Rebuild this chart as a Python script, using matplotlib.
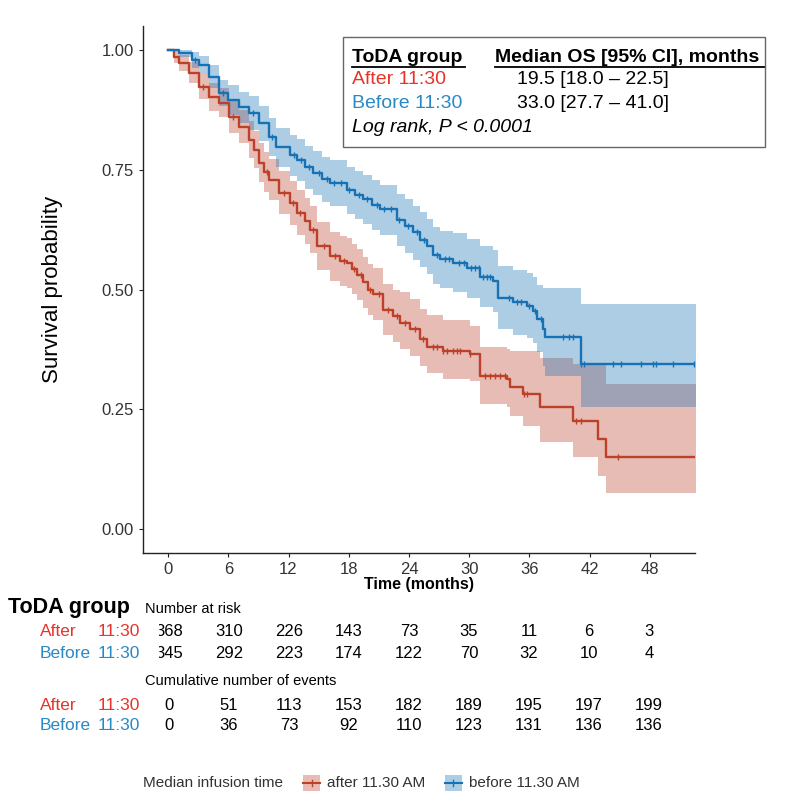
import numpy as np
import matplotlib.pyplot as plt
from matplotlib.patches import Rectangle
from matplotlib.lines import Line2D

plt.rcParams['font.family'] = ['Liberation Sans', 'DejaVu Sans']

# Kaplan-Meier steps (time in months, survival, 95% CI)
before_t = [0, 1.1, 2.4, 3.1, 4.1, 5.1, 6.0, 7.1, 8.1, 9.1, 10.1, 10.8, 12.1, 12.8, 13.6, 14.4,
            15.3, 16.1, 17.8, 18.6, 19.4, 20.3, 21.1, 22.8, 23.6, 24.4, 25.1, 25.8, 26.4, 27.1,
            28.4, 29.8, 31.1, 32.4, 32.9, 34.4, 35.8, 36.4, 36.8, 37.4, 37.6, 41.1, 52.6]
before_s = [1.000, 0.994, 0.979, 0.969, 0.944, 0.910, 0.896, 0.881, 0.869, 0.848, 0.819, 0.798,
            0.781, 0.771, 0.756, 0.744, 0.731, 0.723, 0.708, 0.698, 0.688, 0.677, 0.667, 0.646,
            0.633, 0.619, 0.604, 0.590, 0.571, 0.563, 0.556, 0.544, 0.527, 0.517, 0.483, 0.473,
            0.465, 0.456, 0.438, 0.417, 0.400, 0.344, 0.344]
before_hi = [1.0, 1.0, 0.995, 0.988, 0.968, 0.938, 0.926, 0.913, 0.903, 0.884, 0.857, 0.838,
             0.823, 0.814, 0.800, 0.789, 0.777, 0.770, 0.756, 0.747, 0.738, 0.728, 0.719, 0.700,
             0.688, 0.675, 0.661, 0.648, 0.630, 0.623, 0.617, 0.606, 0.591, 0.582, 0.550, 0.541,
             0.534, 0.526, 0.510, 0.504, 0.504, 0.469, 0.469]
before_lo = [1.0, 0.986, 0.963, 0.950, 0.920, 0.882, 0.864, 0.848, 0.833, 0.810, 0.779, 0.756,
             0.737, 0.726, 0.710, 0.697, 0.683, 0.674, 0.658, 0.647, 0.636, 0.624, 0.613, 0.591,
             0.577, 0.562, 0.546, 0.532, 0.512, 0.503, 0.495, 0.482, 0.463, 0.452, 0.418, 0.406,
             0.398, 0.388, 0.370, 0.340, 0.319, 0.254, 0.254]

after_t = [0, 0.6, 1.1, 2.1, 3.1, 4.1, 5.1, 6.1, 7.1, 8.1, 8.6, 9.1, 9.6, 10.1, 11.1, 12.1, 12.8,
           13.6, 14.1, 14.8, 16.1, 17.1, 17.8, 18.3, 18.8, 19.4, 19.9, 20.4, 21.4, 22.4, 23.1,
           24.1, 25.1, 25.8, 27.4, 30.1, 31.1, 33.8, 34.1, 35.4, 37.1, 40.3, 42.8, 43.6, 52.6]
after_s = [1.000, 0.985, 0.973, 0.952, 0.923, 0.902, 0.890, 0.860, 0.840, 0.813, 0.792, 0.765,
           0.746, 0.729, 0.702, 0.681, 0.660, 0.642, 0.625, 0.590, 0.569, 0.560, 0.556, 0.542,
           0.531, 0.515, 0.500, 0.490, 0.458, 0.444, 0.431, 0.417, 0.396, 0.381, 0.371, 0.365,
           0.319, 0.313, 0.296, 0.281, 0.254, 0.225, 0.188, 0.150, 0.150]
after_hi = [1.0, 0.997, 0.990, 0.974, 0.949, 0.931, 0.920, 0.893, 0.875, 0.851, 0.831, 0.806,
            0.788, 0.772, 0.747, 0.727, 0.707, 0.690, 0.674, 0.640, 0.620, 0.612, 0.608, 0.594,
            0.584, 0.568, 0.554, 0.544, 0.512, 0.499, 0.494, 0.480, 0.460, 0.446, 0.436, 0.423,
            0.381, 0.376, 0.371, 0.371, 0.358, 0.344, 0.344, 0.302, 0.302]
after_lo = [1.0, 0.973, 0.956, 0.930, 0.897, 0.873, 0.860, 0.827, 0.805, 0.775, 0.753, 0.724,
            0.704, 0.686, 0.657, 0.635, 0.613, 0.594, 0.576, 0.540, 0.518, 0.508, 0.504, 0.490,
            0.478, 0.462, 0.446, 0.436, 0.404, 0.390, 0.375, 0.361, 0.340, 0.325, 0.314, 0.310,
            0.262, 0.255, 0.237, 0.215, 0.181, 0.150, 0.110, 0.075, 0.075]

# censoring times (months)
before_cens = [2.7, 5.5, 8.5, 10.4, 12.5, 13.2, 14.0, 15.0, 15.8, 16.5, 17.2, 18.0, 19.0, 19.8,
               20.8, 21.5, 22.2, 23.0, 23.9, 24.8, 25.5, 26.8, 27.6, 28.0, 29.0, 29.5, 30.2,
               30.6, 31.0, 31.4, 31.8, 32.1, 34.0, 34.8, 35.2, 36.0, 36.6, 37.2, 39.3, 39.9,
               40.3, 41.1, 41.4, 44.3, 45.1, 47.1, 48.3, 48.6, 50.3, 52.4]
after_cens = [3.5, 6.5, 9.9, 11.5, 12.4, 13.1, 14.4, 15.5, 16.6, 17.5, 18.5, 19.2, 20.1, 21.0,
              21.9, 22.8, 23.6, 24.6, 25.4, 26.4, 26.8, 27.4, 27.8, 28.4, 28.8, 29.1, 30.1,
              31.6, 32.1, 32.6, 33.1, 33.6, 35.5, 35.8, 40.6, 41.1, 44.8]

# risk table
table_times = [0, 6, 12, 18, 24, 30, 36, 42, 48]
after_risk = [368, 310, 226, 143, 73, 35, 11, 6, 3]
before_risk = [345, 292, 223, 174, 122, 70, 32, 10, 4]
after_events = [0, 51, 113, 153, 182, 189, 195, 197, 199]
before_events = [0, 36, 73, 92, 110, 123, 131, 136, 136]

red = '#BD4029'
blue = '#1672B5'
red_txt = '#E8332A'
blue_txt = '#2A88C6'

W, H = 790, 800
fig = plt.figure(figsize=(W / 100, H / 100), dpi=100)


def fx(x):
    return x / W


def fy(y):
    return 1 - y / H


ax = fig.add_axes([fx(143), fy(553), fx(695) - fx(143), fy(26) - fy(553)])

ax.fill_between(after_t, after_lo, after_hi, step='post', color=red, alpha=0.35, lw=0)
ax.fill_between(before_t, before_lo, before_hi, step='post', color=blue, alpha=0.35, lw=0)
ax.step(after_t, after_s, where='post', color=red, lw=1.7)
ax.step(before_t, before_s, where='post', color=blue, lw=1.7)

for tt, ss, cens, col in [(after_t, after_s, after_cens, red), (before_t, before_s, before_cens, blue)]:
    idx = np.searchsorted(tt, cens, side='right') - 1
    ax.plot(cens, np.array(ss)[idx], ls='none', marker='|', ms=5, mew=1.0, color=col)

ax.set_xlim(-2.5, 52.5)
ax.set_ylim(-0.05, 1.05)
ax.set_xticks(table_times)
ax.set_yticks([0, 0.25, 0.5, 0.75, 1.0])
ax.set_yticklabels(['0.00', '0.25', '0.50', '0.75', '1.00'])
ax.tick_params(labelsize=12, length=3, width=0.8, colors='#222222', labelcolor='#333333')
for sp in ['top', 'right']:
    ax.spines[sp].set_visible(False)
for sp in ['left', 'bottom']:
    ax.spines[sp].set_linewidth(1.0)
    ax.spines[sp].set_color('#222222')
ax.set_xlabel('Time (months)', fontsize=11.5, fontweight='bold',
              family=['Liberation Sans Narrow', 'Liberation Sans'], labelpad=0)
ax.set_ylabel('Survival probability', fontsize=16, labelpad=28)

# median OS box
fig.patches.append(Rectangle((fx(343), fy(147)), fx(765) - fx(343), fy(37) - fy(147),
                             transform=fig.transFigure, fill=False, ec='#666666', lw=1.0))
fs = 14
fig.text(fx(352), fy(57), 'ToDA group', fontsize=fs, fontweight='bold', va='center')
fig.text(fx(495), fy(57), 'Median OS [95% CI], months', fontsize=fs, fontweight='bold', va='center')
for x0, x1 in [(352, 465), (495, 764)]:
    fig.lines.append(Line2D([fx(x0), fx(x1)], [fy(67), fy(67)], transform=fig.transFigure,
                            color='black', lw=1.3))
fig.text(fx(352), fy(80), 'After 11:30', fontsize=fs, color=red_txt, va='center')
fig.text(fx(517), fy(80), '19.5 [18.0 – 22.5]', fontsize=fs, va='center')
fig.text(fx(352), fy(103), 'Before 11:30', fontsize=fs, color=blue_txt, va='center')
fig.text(fx(517), fy(103), '33.0 [27.7 – 41.0]', fontsize=fs, va='center')
fig.text(fx(352), fy(127), 'Log rank, P < 0.0001', fontsize=fs, style='italic', va='center')

# risk table
narrow = ['Liberation Sans Narrow', 'Liberation Sans']
tab = fig.add_axes([fx(159), fy(740), fx(695) - fx(159), fy(620) - fy(740)])
tab.set_xlim((159 - 169) / 10.04, 52.6)
tab.set_ylim(740, 620)
tab.axis('off')

fig.text(fx(8), fy(607), 'ToDA group', fontsize=15.5, fontweight='bold', va='center', family=narrow)
fig.text(fx(145), fy(609), 'Number at risk', fontsize=10.5, va='center', family=narrow)
fig.text(fx(145), fy(681), 'Cumulative number of events', fontsize=10.5, va='center', family=narrow)

rows = [(632, after_risk, 'After', red_txt), (653, before_risk, 'Before', blue_txt),
        (705, after_events, 'After', red_txt), (726, before_events, 'Before', blue_txt)]
for y, vals, lab, col in rows:
    fig.text(fx(40), fy(y), lab, fontsize=12.5, color=col, va='center', family=narrow)
    fig.text(fx(98), fy(y), '11:30', fontsize=12.5, color=col, va='center', family=narrow)
    for t, v in zip(table_times, vals):
        tab.text(t, y, str(v), fontsize=12, ha='center', va='center', family=narrow,
                 clip_on=True)

# bottom legend
fig.text(fx(143), fy(783), 'Median infusion time', fontsize=11, color='#333333', va='center')
for x0, col, lab in [(303, red, 'after 11.30 AM'), (445, blue, 'before 11.30 AM')]:
    fig.patches.append(Rectangle((fx(x0), fy(791)), fx(17), fy(775) - fy(791),
                                 transform=fig.transFigure, color=col, alpha=0.35, lw=0))
    fig.lines.append(Line2D([fx(x0), fx(x0 + 17)], [fy(783), fy(783)], transform=fig.transFigure,
                            color=col, lw=1.5))
    fig.lines.append(Line2D([fx(x0 + 8.5), fx(x0 + 8.5)], [fy(780), fy(786)], transform=fig.transFigure,
                            color=col, lw=1.0))
    fig.text(fx(x0 + 24), fy(783), lab, fontsize=11, color='#333333', va='center')

fig.savefig('out.png', dpi=100)
